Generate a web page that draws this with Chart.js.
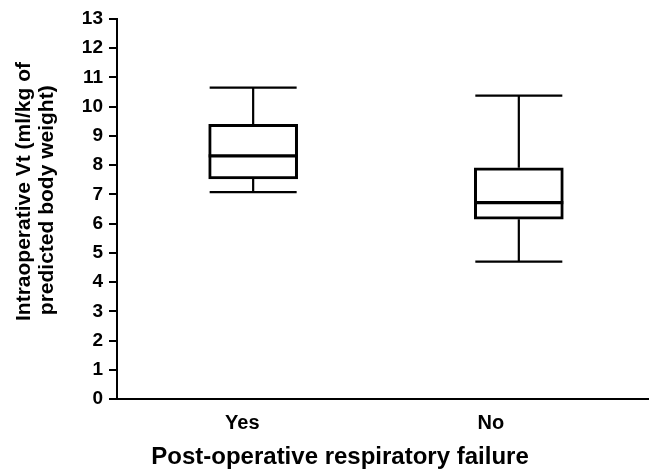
<!DOCTYPE html>
<html>
<head>
<meta charset="utf-8">
<script src="https://cdn.jsdelivr.net/npm/chart.js@4/dist/chart.umd.min.js"></script>
<style>
  html, body { margin: 0; padding: 0; background: #ffffff; }
  #wrap { width: 649px; height: 473px; }
</style>
</head>
<body>
<div id="wrap"><canvas id="c" width="649" height="473"></canvas></div>
<script>
const categories = ['Yes', 'No'];
const whiskerMin = [7.08, 4.70];
const q1 = [7.53, 6.15];
const median = [8.32, 6.72];
const q3 = [9.40, 7.91];
const whiskerMax = [10.65, 10.38];
const yAxisTitle = ['      Intraoperative Vt (ml/kg of', '   predicted body weight)'];
const xAxisTitle = 'Post-operative respiratory failure';

const FONT = "'Liberation Sans', Arial, Helvetica, sans-serif";

const boxPlugin = {
  id: 'boxWhiskers',
  afterDatasetsDraw(chart) {
    const ctx = chart.ctx;
    const xs = chart.scales.x;
    const ys = chart.scales.y;
    const meta = chart.getDatasetMeta(0);
    ctx.save();
    ctx.strokeStyle = '#000000';
    ctx.lineCap = 'butt';
    categories.forEach((c, i) => {
      const bar = meta.data[i];
      const cx = xs.getPixelForValue(i + 1);
      const half = bar.width / 2;
      const capHalf = half - 1;
      const yMin = ys.getPixelForValue(whiskerMin[i]);
      const yQ1 = ys.getPixelForValue(q1[i]);
      const yMed = ys.getPixelForValue(median[i]);
      const yQ3 = ys.getPixelForValue(q3[i]);
      const yMax = ys.getPixelForValue(whiskerMax[i]);
      ctx.lineWidth = 2.2;
      ctx.beginPath();
      ctx.moveTo(cx, yQ3); ctx.lineTo(cx, yMax);
      ctx.moveTo(cx, yQ1); ctx.lineTo(cx, yMin);
      ctx.moveTo(cx - capHalf, yMax); ctx.lineTo(cx + capHalf, yMax);
      ctx.moveTo(cx - capHalf, yMin); ctx.lineTo(cx + capHalf, yMin);
      ctx.stroke();
      ctx.lineWidth = 3.2;
      ctx.beginPath();
      ctx.moveTo(cx - half, yMed); ctx.lineTo(cx + half, yMed);
      ctx.stroke();
    });
    ctx.restore();
  }
};

new Chart(document.getElementById('c'), {
  type: 'bar',
  data: {
    datasets: [{
      data: categories.map((c, i) => ({ x: i + 1, y: [q1[i], q3[i]] })),
      backgroundColor: '#ffffff',
      borderColor: '#000000',
      borderWidth: 3,
      borderSkipped: false,
      barThickness: 89,
      xAxisID: 'x',
      yAxisID: 'y'
    }]
  },
  options: {
    responsive: false,
    maintainAspectRatio: false,
    animation: false,
    layout: { padding: { top: 19, right: 0, bottom: 0, left: 31 } },
    plugins: {
      legend: { display: false },
      tooltip: { enabled: false },
      title: {
        display: true,
        position: 'bottom',
        text: xAxisTitle,
        color: '#000000',
        font: { family: FONT, size: 24, weight: 'bold', lineHeight: 1.2 },
        padding: { top: 2, bottom: 1 }
      }
    },
    scales: {
      x: {
        type: 'linear',
        display: false,
        offset: false,
        min: 0.4875,
        max: 2.49
      },
      xl: {
        type: 'linear',
        position: 'bottom',
        offset: false,
        min: 0.496,
        max: 2.636,
        afterBuildTicks: (axis) => { axis.ticks = categories.map((c, i) => ({ value: i + 1 })); },
        afterFit: (axis) => { axis.height = 42.2; },
        grid: { display: true, offset: false, drawOnChartArea: false, drawTicks: false },
        border: { display: true, color: '#000000', width: 2 },
        ticks: {
          color: '#000000',
          padding: 12,
          maxRotation: 0,
          autoSkip: false,
          font: { family: FONT, size: 20, weight: 'bold' },
          callback: (v, idx) => categories[idx]
        }
      },
      y: {
        type: 'linear',
        position: 'left',
        min: 0,
        max: 13,
        afterFit: (axis) => { axis.width = 86; },
        grid: { display: true, drawOnChartArea: false, drawTicks: true, tickLength: 8, color: '#000000', tickColor: '#000000', lineWidth: 2 },
        border: { display: true, color: '#000000', width: 2 },
        ticks: {
          stepSize: 1,
          color: '#000000',
          padding: 6,
          font: { family: FONT, size: 19, weight: 'bold' }
        },
        title: {
          display: true,
          text: yAxisTitle,
          color: '#000000',
          font: { family: FONT, size: 21, weight: 'bold', lineHeight: 1.08 },
          padding: { top: -18, bottom: 0 }
        }
      }
    }
  },
  plugins: [boxPlugin]
});
</script>
</body>
</html>
